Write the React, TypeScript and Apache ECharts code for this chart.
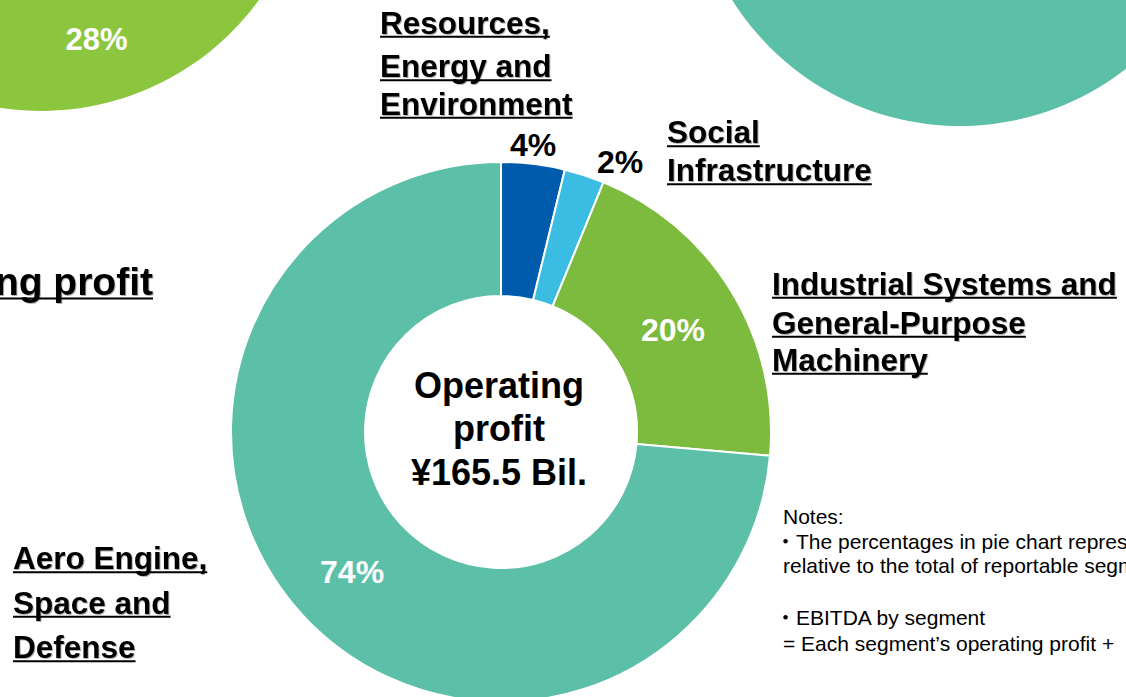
import React, { useEffect, useRef } from "react";
import * as echarts from "echarts";

// ---- data ----
const segmentNames = [
  "Resources, Energy and Environment",
  "Social Infrastructure",
  "Industrial Systems and General-Purpose Machinery",
  "Aero Engine, Space and Defense",
];
const segmentShares = [3.8, 2.4, 20.2, 73.6];
const segmentColors = ["#005BAC", "#3BBDE3", "#7DBB3E", "#5CBFA8"];

const leftPieShares = [28];
const leftPieNames = ["Industrial Systems and General-Purpose Machinery"];
const rightPieShares = [100];
const rightPieNames = ["Aero Engine, Space and Defense"];

const centerLines = ["Operating", "profit", "¥165.5 Bil."];
const resourcesLines = ["Resources,", "Energy and", "Environment"];
const socialLines = ["Social", "Infrastructure"];
const industrialLines = ["Industrial Systems and", "General-Purpose", "Machinery"];
const aeroLines = ["Aero Engine,", "Space and", "Defense"];
const leftTitle = "Operating profit";
const notesLines = [
  "Notes:",
  "・The percentages in pie chart represent",
  "relative to the total of reportable segments",
  "",
  "・EBITDA by segment",
  "= Each segment’s operating profit +",
];

// ---- layout ----
const FONT = "'Liberation Sans', Arial, 'Noto Sans CJK JP', sans-serif";
const NAME_SIZE = 31.5;

function measure(text: string, size: number, weight: string) {
  const ctx = document.createElement("canvas").getContext("2d");
  if (!ctx) return text.length * size * 0.6;
  ctx.font = `${weight} ${size}px 'Liberation Sans', Arial, sans-serif`;
  return ctx.measureText(text).width;
}

function underlinedBlock(lines: string[], x: number, ys: number[], size: number, align: "left" | "right" = "left") {
  const els: any[] = [];
  lines.forEach((t, i) => {
    const w = measure(t, size, "bold");
    const y = ys[i];
    els.push({
      type: "text",
      x,
      y,
      style: {
        text: t,
        fontSize: size,
        fontWeight: "bold",
        fontFamily: FONT,
        fill: "#000",
        align,
        verticalAlign: "middle",
        textShadowColor: "rgba(0,0,0,0.3)",
        textShadowBlur: 1,
        textShadowOffsetX: 1,
        textShadowOffsetY: 1,
      },
    });
    const x0 = align === "left" ? x : x - w;
    els.push({
      type: "rect",
      shape: { x: x0, y: y + size * 0.42, width: w, height: 2 },
      style: { fill: "#000" },
    });
  });
  return els;
}

const labelAnchors: ([number, number] | null)[] = [[533, 145], [620, 162], null, null];
const labelNudges: [number, number][] = [[0, 0], [0, 0], [-4, 5], [3, 1]];

export default function App() {
  const ref = useRef<HTMLDivElement>(null);

  useEffect(() => {
    if (!ref.current) return;
    const chart = echarts.init(ref.current, null, { renderer: "svg" });

    const mainData = segmentNames.map((name, i) => {
      const outside = labelAnchors[i] !== null;
      return {
        name,
        value: segmentShares[i],
        itemStyle: { color: segmentColors[i] },
        label: {
          position: outside ? "outside" : "inside",
          color: outside ? "#000" : "#fff",
        },
      };
    });

    const graphics: any[] = [
      ...underlinedBlock(resourcesLines, 380, [22.5, 66, 103.5], NAME_SIZE),
      ...underlinedBlock(socialLines, 667, [132, 170], NAME_SIZE),
      ...underlinedBlock(industrialLines, 772, [283.5, 322.5, 359.5], NAME_SIZE),
      ...underlinedBlock(aeroLines, 13, [558, 602.5, 647], NAME_SIZE),
      ...underlinedBlock([leftTitle], 153, [281], 39, "right"),
    ];

    const centerYs = [385, 428.5, 472];
    centerLines.forEach((t, i) => {
      graphics.push({
        type: "text",
        x: 499,
        y: centerYs[i],
        style: {
          text: t,
          fontSize: 36,
          fontWeight: "bold",
          fontFamily: FONT,
          fill: "#000",
          align: "center",
          verticalAlign: "middle",
        },
      });
    });

    const noteYs = [516, 541, 565.5, 591, 617.5, 643.5];
    notesLines.forEach((t, i) => {
      if (!t) return;
      const bullet = t.startsWith("・");
      graphics.push({
        type: "text",
        x: bullet ? 775 : 783,
        y: noteYs[i],
        style: {
          text: t,
          fontSize: 21,
          fontFamily: FONT,
          fill: "#000",
          align: "left",
          verticalAlign: "middle",
        },
      });
    });

    chart.setOption({
      animation: false,
      backgroundColor: "#fff",
      series: [
        {
          type: "pie",
          silent: true,
          center: [41, -158],
          radius: [136, 269],
          startAngle: 105.7,
          clockwise: true,
          data: leftPieNames.map((n, i) => ({ name: n, value: leftPieShares[i] })),
          itemStyle: { color: "#8CC63F" },
          label: {
            show: true,
            position: "inside",
            formatter: (p: any) => `${Math.round(p.value)}%`,
            color: "#fff",
            fontSize: 31,
            fontWeight: "bold",
            fontFamily: FONT,
          },
          labelLine: { show: false },
        },
        {
          type: "pie",
          silent: true,
          center: [960, -143],
          radius: [136, 269],
          startAngle: 90,
          data: rightPieNames.map((n, i) => ({ name: n, value: rightPieShares[i] })),
          itemStyle: { color: "#5CBFA8" },
          label: { show: false },
          labelLine: { show: false },
        },
        {
          type: "pie",
          silent: true,
          center: [501, 432],
          radius: [136, 270],
          startAngle: 90,
          clockwise: true,
          avoidLabelOverlap: false,
          itemStyle: { borderColor: "#fff", borderWidth: 2 },
          label: {
            show: true,
            formatter: (p: any) => `${Math.round(p.value)}%`,
            fontSize: 32,
            fontWeight: "bold",
            fontFamily: FONT,
          },
          labelLine: { show: false },
          labelLayout: (p: any) => {
            const a = labelAnchors[p.dataIndex];
            if (a) return { x: a[0], y: a[1], align: "center", verticalAlign: "middle" };
            const n = labelNudges[p.dataIndex];
            return { dx: n[0], dy: n[1] };
          },
          data: mainData,
        },
      ],
      graphic: graphics,
    });

    return () => chart.dispose();
  }, []);

  return (
    <div
      ref={ref}
      style={{ position: "absolute", left: 0, top: 0, width: 1126, height: 697 }}
    />
  );
}
